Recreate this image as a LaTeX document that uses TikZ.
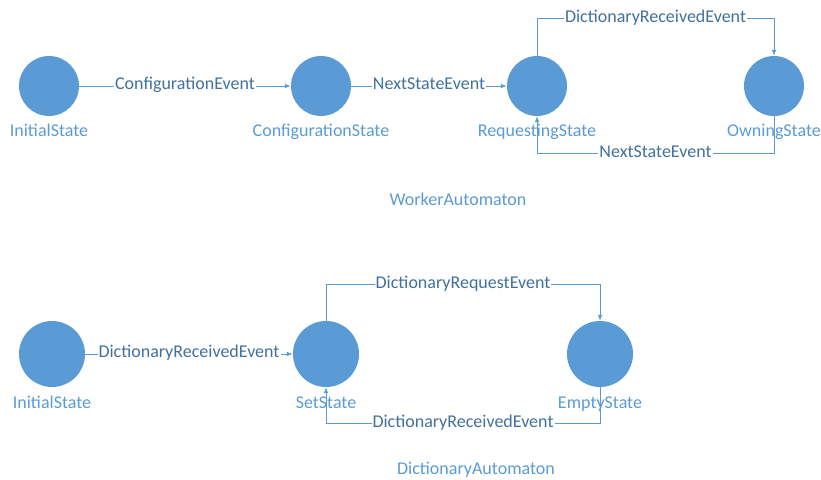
\documentclass[tikz,border=0pt]{standalone}
\usepackage{fontspec}
\setmainfont{Carlito}
\usepackage{tikz}
\usetikzlibrary{shapes,arrows.meta,positioning}
\definecolor{stateblue}{HTML}{5B9BD5}
\definecolor{eventblue}{HTML}{41719C}
\tikzstyle{state} = [circle, fill=stateblue, minimum size=60pt, inner sep=0pt]
\tikzstyle{bigstate} = [state, minimum size=66pt]
\tikzstyle{statename} = [text=stateblue, inner sep=0pt]
\tikzstyle{event} = [fill=white, text=eventblue, inner sep=1pt,
    text height=12pt, text depth=4pt]
\tikzstyle{line} = [draw, color=stateblue, line width=0.8pt,
    -{Latex[length=6pt,width=4.5pt]}]

\begin{document}
\begin{tikzpicture}[x=1pt, y=1pt, node distance=2cm]
  \fontsize{18pt}{22pt}\selectfont
  \useasboundingbox (0,0) rectangle (821,479);

    % Worker automaton
    \node [state] at (49,393) (winit) {};
    \node [state, right of=winit, node distance=272pt] (config) {};
    \node [state, right of=config, node distance=216pt] (request) {};
    \node [state, right of=request, node distance=237pt] (owning) {};
    \node [statename, below=8pt of winit] (winitname) {InitialState};
    \node [statename, below=8pt of config] (configname) {ConfigurationState};
    \node [statename, below=8pt of request] (requestname) {RequestingState};
    \node [statename, below=8pt of owning] (owningname) {OwningState};
    \node [statename] at (458,280) (worker) {WorkerAutomaton};

    \path [line] (winit) -- node [event] {ConfigurationEvent} (config);
    \path [line] (config) -- node [event] {NextStateEvent} (request);
    \path [line] (request.north) -- ++(0,37)
      -| node [event, pos=0.25] {DictionaryReceivedEvent} (owning.north);
    \path [line] (owning.south) -- ++(0,-37)
      -| node [event, pos=0.25] {NextStateEvent} (request.south);

    % Dictionary automaton
    \node [bigstate] at (52,125) (dinit) {};
    \node [bigstate, right of=dinit, node distance=274pt] (set) {};
    \node [bigstate, right of=set, node distance=274pt] (empty) {};
    \node [statename, below=9pt of dinit] (dinitname) {InitialState};
    \node [statename, below=9pt of set] (setname) {SetState};
    \node [statename, below=9pt of empty] (emptyname) {EmptyState};
    \node [statename] at (476,9) (dict) {DictionaryAutomaton};

    \path [line] (dinit) -- node [event] {DictionaryReceivedEvent} (set);
    \path [line] (set.north) -- ++(0,36)
      -| node [event, pos=0.25] {DictionaryRequestEvent} (empty.north);
    \path [line] (empty.south) -- ++(0,-36)
      -| node [event, pos=0.25] {DictionaryReceivedEvent} (set.south);
\end{tikzpicture}
\end{document}
